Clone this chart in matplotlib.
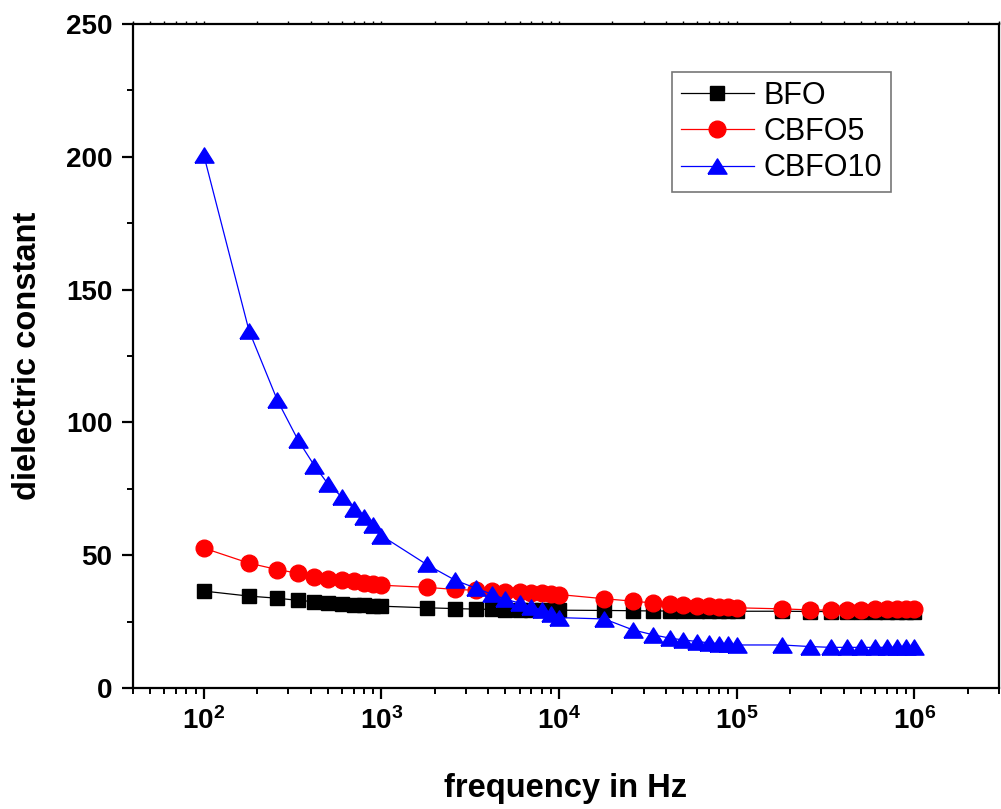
"""Dielectric constant vs frequency for BFO, CBFO5, CBFO10."""

import math

import matplotlib
matplotlib.use("Agg")
import matplotlib.pyplot as plt
from matplotlib.ticker import LogLocator, MultipleLocator, FuncFormatter

# frequency sweep (Hz), same for all samples
freq = [100, 180, 260, 340, 420, 500, 600, 700, 800, 900,
        1e3, 1.8e3, 2.6e3, 3.4e3, 4.2e3, 5e3, 6e3, 7e3, 8e3, 9e3,
        1e4, 1.8e4, 2.6e4, 3.4e4, 4.2e4, 5e4, 6e4, 7e4, 8e4, 9e4,
        1e5, 1.8e5, 2.6e5, 3.4e5, 4.2e5, 5e5, 6e5, 7e5, 8e5, 9e5,
        1e6]

bfo = [36.5, 34.6, 33.8, 33.0, 32.5, 32.0, 31.7, 31.4, 31.2, 31.0,
       30.8, 30.2, 29.9, 29.7, 29.6, 29.5, 29.5, 29.4, 29.4, 29.3,
       29.3, 29.2, 29.1, 29.0, 29.0, 29.0, 28.9, 28.9, 28.9, 28.9,
       28.9, 28.9, 28.8, 28.8, 28.8, 28.8, 28.8, 28.8, 28.8, 28.8,
       28.8]

cbfo5 = [52.7, 47.0, 44.6, 43.2, 41.9, 41.2, 40.7, 40.2, 39.7, 39.2,
         38.7, 37.9, 37.1, 36.8, 36.5, 36.3, 36.1, 35.9, 35.7, 35.5,
         35.2, 33.6, 32.7, 32.0, 31.6, 31.3, 31.0, 30.8, 30.6, 30.4,
         30.2, 29.8, 29.4, 29.3, 29.4, 29.5, 29.6, 29.6, 29.7, 29.7,
         29.8]

cbfo10 = [200.8, 134.5, 108.3, 93.3, 83.7, 76.9, 71.9, 67.5, 64.4, 61.2,
          57.4, 46.5, 40.6, 37.6, 35.3, 33.4, 32.0, 30.6, 29.4, 28.0,
          26.5, 26.0, 21.9, 20.0, 18.8, 18.1, 17.5, 17.0, 16.7, 16.4,
          16.2, 16.2, 15.6, 15.3, 15.3, 15.3, 15.3, 15.3, 15.3, 15.3,
          15.3]

labels = ["BFO", "CBFO5", "CBFO10"]

plt.rcParams["font.family"] = ["Liberation Sans", "DejaVu Sans"]
plt.rcParams["mathtext.fontset"] = "custom"
plt.rcParams["mathtext.rm"] = "Liberation Sans:bold"
plt.rcParams["mathtext.bf"] = "Liberation Sans:bold"
plt.rcParams["mathtext.it"] = "Liberation Sans:bold"

fig = plt.figure(figsize=(10.01, 8.09), dpi=100)
ax = fig.add_axes([133 / 1001, 1 - 688 / 809, 866 / 1001, 664 / 809])

# wide, flat triangle like the original software draws
tri = [(-1, -0.8), (1, -0.8), (0, 0.8), (-1, -0.8)]

ax.plot(freq, bfo, color="black", lw=0.9, marker="s", ms=9.6,
        mfc="black", mec="black", label=labels[0])
ax.plot(freq, cbfo5, color="red", lw=0.9, marker="o", ms=12,
        mfc="red", mec="red", label=labels[1])
ax.plot(freq, cbfo10, color="blue", lw=0.9, marker=tri, ms=13.7,
        mfc="blue", mec="blue", label=labels[2])

ax.set_xscale("log")
ax.set_xlim(40, 3e6)
ax.set_ylim(0, 250)

ax.xaxis.set_major_locator(LogLocator(base=10, numticks=20))
ax.xaxis.set_minor_locator(LogLocator(base=10, subs=range(2, 10), numticks=20))
ax.xaxis.set_major_formatter(FuncFormatter(
    lambda v, p: r"$\mathbf{10^{%d}}$" % round(math.log10(v))))
ax.yaxis.set_major_locator(MultipleLocator(50))
ax.yaxis.set_minor_locator(MultipleLocator(25))

for side in ax.spines.values():
    side.set_linewidth(1.6)

ax.tick_params(axis="both", which="major", direction="out", length=8,
               width=1.6)
ax.tick_params(axis="both", which="minor", direction="out", length=4,
               width=1.4)
ax.tick_params(axis="y", which="major", labelsize=20, pad=7)
ax.tick_params(axis="x", which="major", labelsize=20, pad=6)
ax.tick_params(axis="x", which="both", top=True)
for t in ax.xaxis.get_major_ticks() + ax.xaxis.get_minor_ticks():
    t.tick2line.set_markersize(2)
    t.tick2line.set_markeredgewidth(1)
for lab in ax.get_yticklabels():
    lab.set_fontweight("bold")

ax.set_xlabel("frequency in Hz", fontsize=23.5, fontweight="bold", labelpad=27)
ax.set_ylabel("dielectric constant", fontsize=23.5, fontweight="bold", labelpad=16)

leg = ax.legend(loc="upper left", bbox_to_anchor=(0.622, 0.928),
                fontsize=22, frameon=True, fancybox=False, handlelength=2.4,
                handletextpad=0.3, borderpad=0.3, labelspacing=0.2,
                borderaxespad=0)
leg.get_frame().set_edgecolor("#555555")
leg.get_frame().set_linewidth(1.2)

fig.savefig("out.png", dpi=100)
